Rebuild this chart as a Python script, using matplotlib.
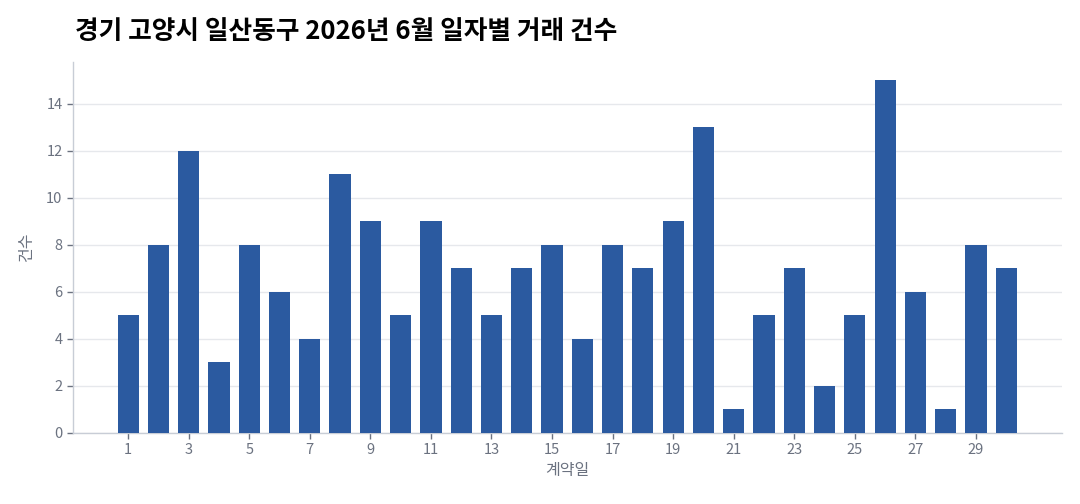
import matplotlib
matplotlib.use("Agg")
import matplotlib.pyplot as plt

plt.rcParams['font.family'] = ['Noto Sans CJK KR', 'DejaVu Sans']

days = list(range(1, 31))
counts = [5, 8, 12, 3, 8, 6, 4, 11, 9, 5, 9, 7, 5, 7, 8, 4, 8, 7, 9, 13,
          1, 5, 7, 2, 5, 15, 6, 1, 8, 7]
xticks = list(range(1, 30, 2))
yticks = [0, 2, 4, 6, 8, 10, 12, 14]

title = "경기 고양시 일산동구 2026년 6월 일자별 거래 건수"

fig = plt.figure(figsize=(10.8, 5.04), dpi=100)
ax = fig.add_axes([0.0676, 0.141, 0.9154, 0.736])

ax.bar(days, counts, width=0.7, color='#2b5aa0', zorder=3)

ax.set_xlim(-0.82, 31.83)
ax.set_ylim(0, 15.78)
ax.set_xticks(xticks)
ax.set_yticks(yticks)
ax.grid(axis='y', color='#e6e8ec', linewidth=1, zorder=0)

for s in ['top', 'right']:
    ax.spines[s].set_visible(False)
for s in ['left', 'bottom']:
    ax.spines[s].set_color('#c8cdd6')
    ax.spines[s].set_linewidth(1)

ax.tick_params(axis='both', colors='#6b7280', labelsize=10.5, length=4, width=1)

ax.set_xlabel("계약일", fontsize=11.5, color='#6b7280', labelpad=3)
ax.set_ylabel("건수", fontsize=11.5, color='#6b7280', labelpad=8)

fig.text(0.0694, 0.937, title, fontsize=18.5, fontweight='bold', color='black',
         ha='left', va='center')

fig.savefig("out.png", dpi=100)
